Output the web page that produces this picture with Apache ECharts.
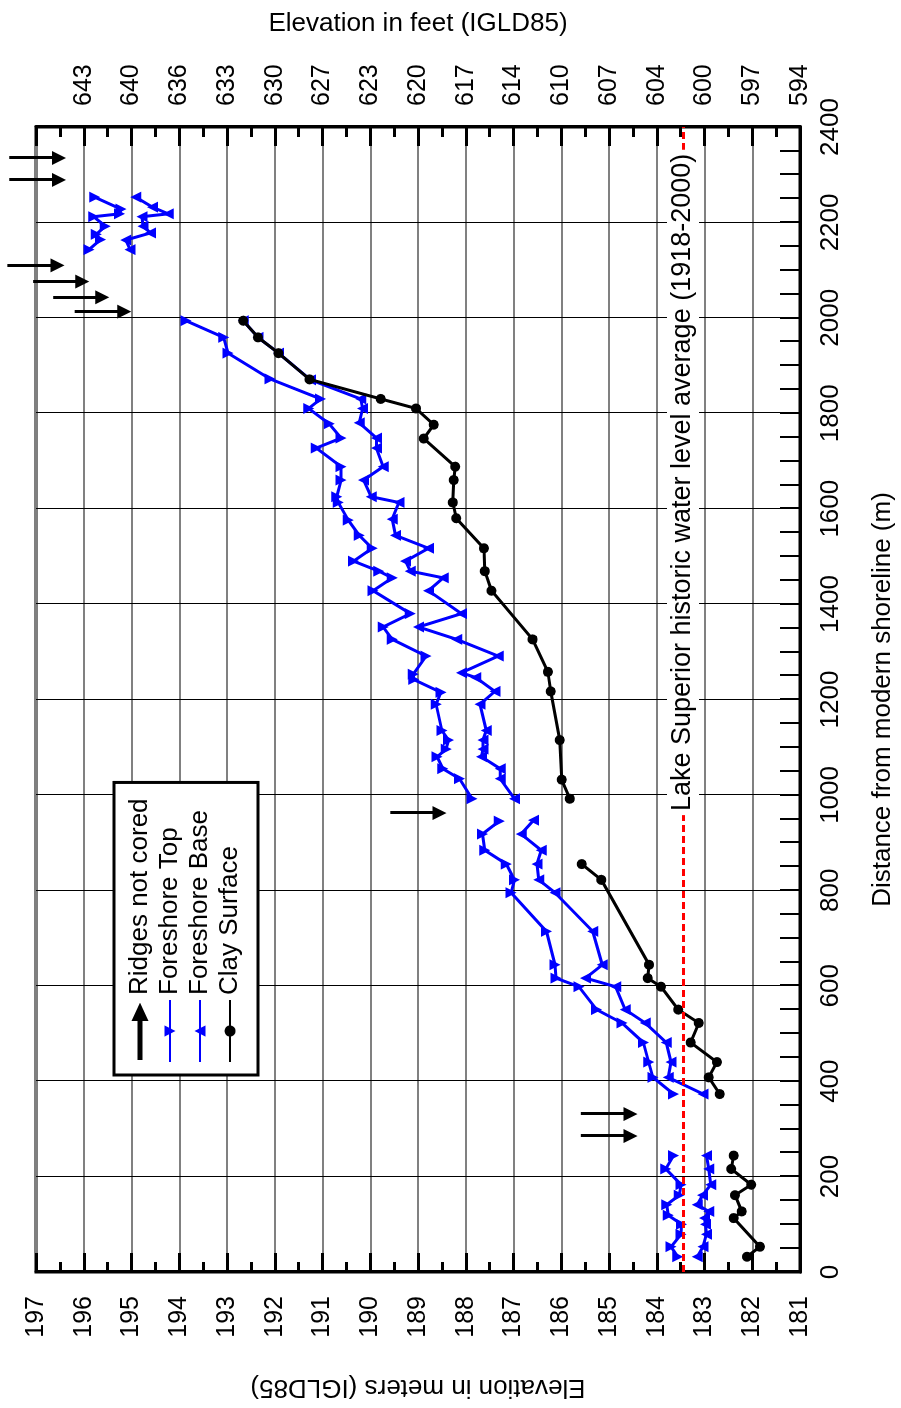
<!DOCTYPE html>
<html><head><meta charset="utf-8">
<script src="https://cdn.jsdelivr.net/npm/echarts@6/dist/echarts.min.js"></script>
<style>
html,body{margin:0;padding:0;background:#fff;overflow:hidden;width:901px;height:1408px;}
#wrap{position:absolute;left:0;top:0;width:1408px;height:901px;transform-origin:0 0;transform:translateY(1408px) rotate(-90deg);background:#fff;}
</style></head><body>
<div id="wrap"></div>
<script>
// ---- Data (distance in m, elevation in m IGLD85); null = gap in the line ----
const topDist = [32,53,79,100,119,141,161,183,216,244,null,
  373,408,440,481,522,550,598,616,644,714,795,822,855,884,918,945,null,
  992,1034,1055,1080,1096,1115,1135,1190,1215,1242,1253,1291,1326,1352,1380,1428,1455,1469,1490,1517,1544,1576,1613,1625,1660,1688,1727,1748,1778,1810,1830,1872,1926,1959,1994,null,
  2143,2164,2175,2192,2212,2218,2228,2253];
const topElev = [183.56,183.70,183.49,183.48,183.76,183.79,183.53,183.49,183.81,183.65,null,
  183.65,184.08,184.17,184.28,184.73,185.26,185.63,186.11,186.13,186.31,187.05,186.98,187.15,187.60,187.65,187.30,null,
  187.87,188.13,188.48,188.60,188.41,188.36,188.50,188.62,188.52,189.09,189.10,188.83,189.54,189.73,189.16,189.94,189.54,189.82,190.35,189.96,190.23,190.46,190.67,190.70,190.61,190.61,191.13,190.61,190.86,191.29,191.04,192.10,192.98,193.07,193.86,null,
  195.89,195.65,195.74,195.55,195.79,195.25,195.22,195.77];

const baseDist = [32,53,79,100,113,127,141,161,183,216,244,null,
  373,408,440,481,522,550,598,616,644,714,795,822,855,884,918,947,null,
  992,1034,1055,1080,1096,1115,1135,1190,1217,1246,1256,1291,1326,1352,1380,1428,1455,1469,1490,1517,1544,1578,1613,1625,1660,1688,1727,1748,1780,1810,1830,1870,1926,1959,1994,null,
  2143,2163,2178,2192,2212,2218,2232,2253];
const baseElev = [183.15,183.03,182.96,182.98,183.00,182.91,183.15,183.04,182.87,182.91,182.96,null,
  183.03,183.76,183.70,183.80,184.24,184.66,184.86,185.49,185.14,185.34,186.13,186.47,186.51,186.42,186.84,186.58,null,
  186.98,187.28,187.28,187.67,187.64,187.64,187.57,187.70,187.39,187.79,188.09,187.32,188.19,188.99,188.09,188.78,188.47,189.16,189.26,188.78,189.47,189.54,189.40,189.98,190.14,189.73,189.87,189.87,190.23,190.16,190.20,191.25,191.92,192.35,192.66,null,
  195.03,195.12,194.60,194.76,194.78,194.23,194.56,194.91];

const clayDist = [32,53,113,127,161,183,216,244,null,
  373,408,440,481,522,550,598,616,644,822,855,null,
  992,1032,1115,1217,1258,1326,1428,1469,1517,1580,1613,1660,1688,1747,1776,1810,1830,1871,1926,1959,1994];
const clayElev = [182.11,181.84,182.39,182.22,182.36,182.02,182.44,182.39,null,
  182.68,182.91,182.74,183.29,183.12,183.55,183.91,184.19,184.16,185.16,185.57,null,
  185.82,185.99,186.03,186.22,186.28,186.60,187.46,187.60,187.62,188.20,188.27,188.25,188.22,188.88,188.67,189.04,189.78,191.27,191.92,192.35,192.66];

// Ridges not cored (arrows): distance, start elevation, arrow-head elevation
const arrowDist = [2335,2289,2110,2076,2043,2013,962,331,285];
const arrowFrom = [197.56,197.56,197.60,197.06,196.64,196.19,189.58,185.59,185.59];
const arrowTo   = [196.52,196.52,196.55,196.03,195.61,195.15,188.55,184.55,184.55];

const lakeAverage = 183.45;
const lakeLabelFrom = 980, lakeLabelTo = 2330;
const lakeLabel = 'Lake Superior historic water level average (1918-2000)';

const meterTicks = [197,196,195,194,193,192,191,190,189,188,187,186,185,184,183,182,181];
const feetLabels = ['','643','640','636','633','630','627','623','620','617','614','610','607','604','600','597','594'];

// ---- build ----
function pairs(d, e){ return d.map((x,i)=> x===null ? ['-','-'] : [x, e[i]]); }
const FONT = "'Liberation Sans', Arial, Helvetica, sans-serif";
const arrowIcon = 'path://M0,7 L0.01,7 Z M3,5.4 L42,5.4 L42,0 L57,7 L42,14 L42,8.6 L3,8.6 Z M62,7 L61.99,7 Z';

const chart = echarts.init(document.getElementById('wrap'), null, {renderer:'canvas', width:1408, height:901});
const tickStyleM = {color:'#000', width:3};
const option = {
  animation:false,
  backgroundColor:'#fff',
  textStyle:{fontFamily:FONT},
  grid:{left:131,right:127,top:36,bottom:95,show:true,borderColor:'#000',borderWidth:3,backgroundColor:'transparent'},
  xAxis:{type:'value',min:0,max:2400,interval:200,position:'bottom',
    name:'Distance from modern shoreline (m)',nameLocation:'middle',nameGap:70,
    nameTextStyle:{fontSize:26,color:'#000',fontFamily:FONT},
    axisLine:{show:true,onZero:false,lineStyle:{color:'#000',width:3}},
    axisTick:{show:true,inside:true,length:20,lineStyle:{color:'#000',width:2}},
    minorTick:{show:true,splitNumber:4,length:20,lineStyle:{color:'#000',width:2}},
    axisLabel:{fontSize:26,color:'#000',margin:18,fontFamily:FONT,formatter:(v)=>String(v)},
    splitLine:{show:true,lineStyle:{color:'#000',width:1}}
  },
  yAxis:[
    {type:'value',min:181,max:197,interval:1,position:'left',
     name:'Elevation in meters (IGLD85)',nameLocation:'middle',nameGap:102,nameRotate:90,
     nameTextStyle:{fontSize:26,color:'#000',fontFamily:FONT},
     axisLine:{show:true,onZero:false,lineStyle:{color:'#000',width:3}},
     axisTick:{show:true,inside:true,length:19,lineStyle:tickStyleM},
     minorTick:{show:true,splitNumber:2,length:10,lineStyle:tickStyleM},
     axisLabel:{fontSize:25,color:'#000',margin:24,fontFamily:FONT},
     splitLine:{show:true,lineStyle:{color:'#808080',width:2}}
    },
    {type:'value',min:181,max:197,interval:1,position:'right',
     name:'Elevation in feet (IGLD85)',nameLocation:'middle',nameGap:90,nameRotate:-90,
     nameTextStyle:{fontSize:26,color:'#000',fontFamily:FONT},
     axisLine:{show:true,onZero:false,lineStyle:{color:'#000',width:3}},
     axisTick:{show:true,inside:true,length:19,lineStyle:tickStyleM},
     minorTick:{show:true,splitNumber:2,length:10,lineStyle:tickStyleM},
     axisLabel:{fontSize:25,color:'#000',margin:21,fontFamily:FONT,
       formatter:(v)=>{const i=meterTicks.indexOf(Math.round(v)); return i>=0?feetLabels[i]:'';}},
     splitLine:{show:false}
    }
  ],
  legend:{orient:'vertical',left:333,top:114,padding:[13,16,15,12],itemWidth:62,itemHeight:14,itemGap:4,
    backgroundColor:'#fff',borderColor:'#000',borderWidth:3,borderRadius:0,selectedMode:false,
    textStyle:{fontSize:26,color:'#000',fontFamily:FONT},
    data:[{name:'Ridges not cored',icon:arrowIcon},'Foreshore Top','Foreshore Base','Clay Surface']},
  series:[
    {name:'Ridges not cored',type:'lines',coordinateSystem:'cartesian2d',clip:false,polyline:false,
     symbol:['none','triangle'],symbolSize:14,silent:true,
     lineStyle:{color:'#000',width:3,opacity:1,curveness:0},itemStyle:{color:'#000'},
     data:arrowDist.map((d,i)=>({coords:[[d,arrowFrom[i]],[d,arrowTo[i]]]})), z:5},
    {name:'Foreshore Top',type:'line',data:pairs(topDist,topElev),connectNulls:false,
     symbol:'triangle',symbolSize:11,symbolRotate:180,showSymbol:true,
     lineStyle:{color:'#0000ff',width:3},itemStyle:{color:'#0000ff'},z:3},
    {name:'Foreshore Base',type:'line',data:pairs(baseDist,baseElev),connectNulls:false,
     symbol:'triangle',symbolSize:11,symbolRotate:0,showSymbol:true,
     lineStyle:{color:'#0000ff',width:3},itemStyle:{color:'#0000ff'},z:3},
    {name:'Clay Surface',type:'line',data:pairs(clayDist,clayElev),connectNulls:false,
     symbol:'circle',symbolSize:10,showSymbol:true,
     lineStyle:{color:'#000',width:3},itemStyle:{color:'#000'},z:4,
     markLine:{silent:true,symbol:['none','none'],animation:false,
       data:[
         {yAxis:lakeAverage,lineStyle:{color:'#ff0000',type:[7,4],width:3},label:{show:false}}
       ]}
    },
    {name:'lake-label',type:'line',data:[],silent:true,z:6,
     markLine:{silent:true,symbol:['none','none'],animation:false,
       lineStyle:{color:'rgba(255,255,255,0)',width:1,type:'solid'},
       label:{show:true,position:'middle',distance:0,verticalAlign:'middle',
             formatter:lakeLabel,
             fontSize:27,color:'#000',fontFamily:FONT,backgroundColor:'#fff',padding:[0,4,5,4]},
       data:[[{coord:[lakeLabelFrom,lakeAverage]},{coord:[lakeLabelTo,lakeAverage]}]]}
    }
  ]
};
chart.setOption(option);
</script>
</body></html>
